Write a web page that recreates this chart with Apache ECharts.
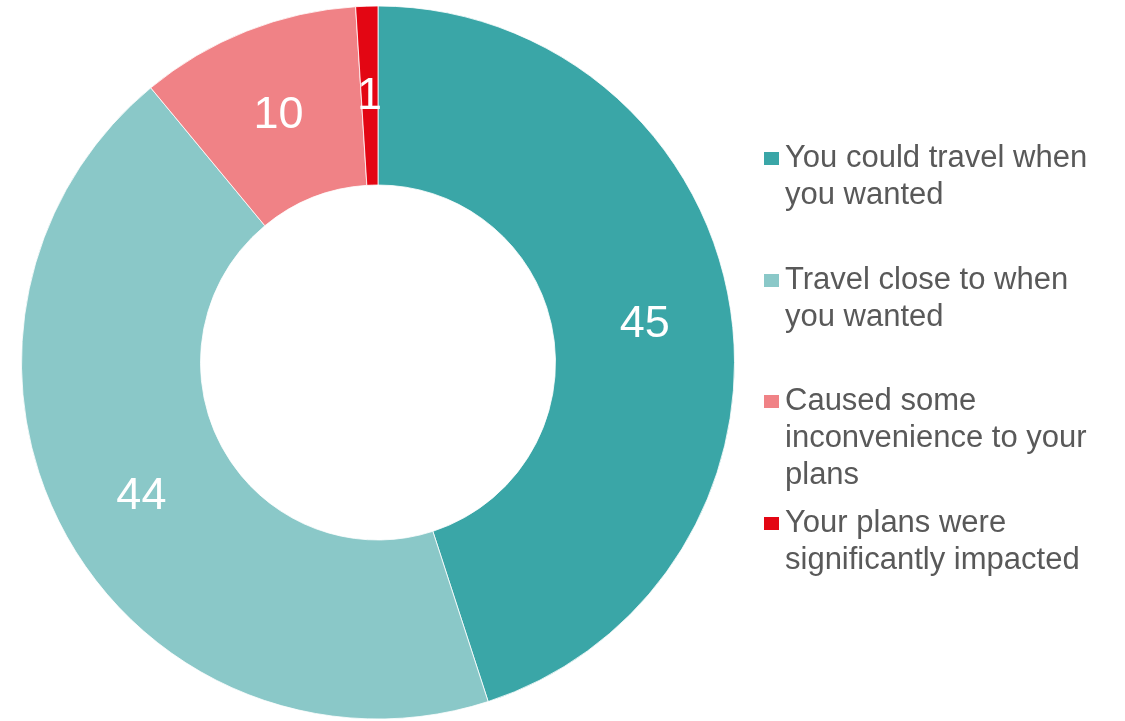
<!DOCTYPE html>
<html>
<head>
<meta charset="utf-8">
<script src="https://cdn.jsdelivr.net/npm/echarts@6/dist/echarts.min.js"></script>
<style>
  html, body { margin: 0; padding: 0; background: #ffffff; }
  #chart { width: 1125px; height: 721px; }
</style>
</head>
<body>
<div id="chart"></div>
<script>
// Survey answers (percent of respondents)
const categories = [
  'You could travel when\nyou wanted',
  'Travel close to when\nyou wanted',
  'Caused some\ninconvenience to your\nplans',
  'Your plans were\nsignificantly impacted'
];
const values = [45, 44, 10, 1];
const colors = ['#3AA6A7', '#8AC8C8', '#F08286', '#E30613'];

const FONT = '"Liberation Sans", Arial, sans-serif';
const LINE_H = 37;
const legendTops = [151, 273, 394, 516];

// One legend block per entry so each entry sits at its own row.
// Leading blank lines keep the swatch level with the first text line,
// since the legend centres the text block on the swatch.
const legends = categories.map((name, i) => {
  const lines = name.split('\n').length;
  const blockLines = 2 * lines - 1;
  return {
    data: [name],
    orient: 'vertical',
    left: 762,
    top: legendTops[i] + 7.5 - blockLines * LINE_H / 2,
    padding: 0,
    itemWidth: 17,
    itemHeight: 15,
    icon: 'rect',
    selectedMode: false,
    formatter: n => '\n'.repeat(lines - 1) + n,
    textStyle: {
      fontFamily: FONT,
      fontSize: 31,
      color: '#595959',
      lineHeight: LINE_H
    }
  };
});

const chart = echarts.init(document.getElementById('chart'), null, { renderer: 'canvas' });
chart.setOption({
  animation: false,
  color: colors,
  legend: legends,
  series: [{
    type: 'pie',
    center: [378, 362.5],
    radius: [177.5, 356.5],
    startAngle: 90,
    clockwise: true,
    avoidLabelOverlap: false,
    itemStyle: { borderColor: '#ffffff', borderWidth: 0.8 },
    label: {
      show: true,
      position: 'inside',
      formatter: '{c}',
      color: '#ffffff',
      fontFamily: FONT,
      fontSize: 45,
      offset: [0, 4]
    },
    labelLine: { show: false },
    emphasis: { disabled: true },
    data: categories.map((name, i) => ({ name: name, value: values[i] }))
  }]
});
</script>
</body>
</html>
